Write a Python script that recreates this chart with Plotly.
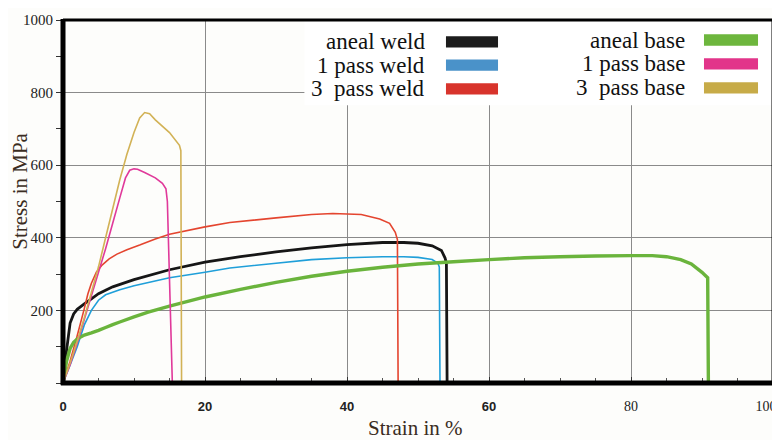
import plotly.graph_objects as go

# ---------------- data ----------------
aneal_weld_x = [0, 0.5, 1, 1.5, 2, 3, 4, 5, 7, 10, 15, 20, 25, 30, 35, 40, 45, 48, 50, 52, 53.3, 53.8, 54, 54.1]
aneal_weld_y = [0, 90, 165, 190, 203, 218, 232, 246, 265, 285, 312, 333, 348, 361, 372, 381, 387, 387, 385, 378, 365, 345, 330, 0]

pass1_weld_x = [0, 1, 2, 3, 4, 5, 6, 8, 10, 15, 20, 23.5, 30, 35, 40, 45, 48, 50, 52, 52.8, 53, 53.1]
pass1_weld_y = [0, 50, 100, 160, 200, 228, 243, 257, 268, 290, 305, 317, 330, 340, 345, 348, 348, 346, 340, 330, 320, 0]

pass3_weld_x = [0, 1, 2, 3, 3.5, 4, 4.7, 5.5, 6.5, 7.6, 9, 10.8, 13, 15, 20, 23.5, 30, 35, 38, 42, 44.6, 46, 46.8, 47.1, 47.2]
pass3_weld_y = [0, 60, 130, 205, 245, 275, 305, 325, 342, 355, 367, 380, 397, 410, 430, 442, 455, 464, 467, 464, 452, 440, 415, 395, 0]

aneal_base_x = [0, 0.5, 1, 1.5, 2, 2.5, 3, 4, 5, 6, 7, 8, 10, 12, 15, 20, 25, 30, 35, 40, 45, 50, 55, 60, 65, 70, 75, 80, 83, 85, 87, 88.5, 90, 90.8, 90.9]
aneal_base_y = [0, 60, 95, 112, 121, 127, 132, 138, 145, 153, 161, 168, 182, 195, 212, 237, 258, 277, 294, 308, 319, 328, 334, 340, 345, 348, 350, 351, 351, 348, 340, 328, 305, 290, 0]

pass1_base_x = [0, 1, 2, 3, 4, 5, 6, 7, 8, 8.8, 9.4, 10, 10.5, 11.5, 13, 14, 14.5, 14.7, 15.4]
pass1_base_y = [0, 50, 110, 175, 240, 305, 370, 440, 510, 565, 586, 590, 589, 580, 565, 550, 535, 500, 0]

pass3_base_x = [0, 1, 2, 3, 4, 5, 6, 7, 8, 9, 10, 10.8, 11.5, 12.2, 13, 15, 16.4, 16.6, 16.7]
pass3_base_y = [0, 55, 115, 180, 250, 320, 400, 480, 560, 630, 690, 730, 745, 742, 725, 690, 655, 640, 0]

series_names = ["aneal weld", "1 pass weld", "3  pass weld", "aneal base", "1 pass base", "3  pass base"]
line_colors = ["#161616", "#1f9fd9", "#e4452f", "#6ab43c", "#e0399a", "#d2b256"]
swatch_colors = ["#1c1c1c", "#4a92c9", "#d8342c", "#6db63d", "#e2358a", "#c7ab48"]
line_widths = [2.8, 1.6, 1.6, 3.4, 1.6, 1.6]

x_tick_vals = [0, 20, 40, 60, 80, 100]
x_tick_text = ["0", "20", "40", "60", "80", "100"]
y_tick_vals = [200, 400, 600, 800, 1000]
y_tick_text = ["200", "400", "600", "800", "1000"]

xs = [aneal_weld_x, pass1_weld_x, pass3_weld_x, aneal_base_x, pass1_base_x, pass3_base_x]
ys = [aneal_weld_y, pass1_weld_y, pass3_weld_y, aneal_base_y, pass1_base_y, pass3_base_y]

# ---------------- figure ----------------
fig = go.Figure()
for name, x, y, c, w in zip(series_names, xs, ys, line_colors, line_widths):
    fig.add_trace(go.Scatter(x=x, y=y, mode="lines", name=name,
                             line=dict(color=c, width=w, simplify=False), showlegend=False))

serif = "Liberation Serif, serif"
bg = "#fdfdfb"

# x tick labels: the first four are set in a small bold sans face in the original,
# the last label is nudged left (padding after it) so it stays inside the window
x_tick_display = []
for v, t in zip(x_tick_vals, x_tick_text):
    if v <= 60:
        x_tick_display.append("<span style='font-family:Liberation Sans;font-size:13px;font-weight:bold'>" + t + "</span>")
    elif v == 100:
        x_tick_display.append(t + "\u00a0\u00a0\u00a0\u00a0\u200b")
    else:
        x_tick_display.append(t)

# page body adds an 8px offset, so the figure is sized to fill the rest of the window
fig.update_layout(
    width=772, height=432,
    margin=dict(l=55, r=7, t=12, b=57),
    paper_bgcolor=bg, plot_bgcolor=bg,
    font=dict(family=serif, color="#111111"),
    xaxis=dict(range=[0, 100], tickvals=x_tick_vals, ticktext=x_tick_display, automargin=False,
               showgrid=True, gridcolor="#8a8a8a", gridwidth=1,
               ticks="inside", ticklen=6, tickcolor="#333", tickwidth=1,
               minor=dict(dtick=5, tick0=0, ticks="inside", ticklen=5, tickcolor="#555", showgrid=False),
               showline=False, zeroline=False, ticklabelstandoff=13, ticklabeloverflow="allow",
               tickfont=dict(family=serif, size=14, color="#222")),
    yaxis=dict(range=[0, 1000], tickvals=y_tick_vals, ticktext=y_tick_text, automargin=False,
               showgrid=True, gridcolor="#8a8a8a", gridwidth=1,
               ticks="outside", ticklen=6, tickcolor="#333", tickwidth=1,
               minor=dict(dtick=100, tick0=0, ticks="outside", ticklen=6, tickcolor="#333", showgrid=False),
               showline=False, zeroline=False, ticklabeloverflow="allow",
               tickfont=dict(family=serif, size=15, color="#222")),
)

shapes = []
# legend box (white) covering grid in upper right
shapes.append(dict(type="rect", xref="paper", yref="paper", x0=0.34, x1=1.0, y0=0.765, y1=1.0,
                   fillcolor="#ffffff", line=dict(width=0), layer="above"))

# legend entries
col_text_x = [0.5127, 0.8789]
col_sw_x = [(0.5394, 0.6127), (0.9028, 0.9789)]
rows_y = [[0.9394, 0.876, 0.81], [0.9449, 0.8788, 0.8127]]
annotations = []
for i, (name, sc) in enumerate(zip(series_names, swatch_colors)):
    col = i // 3
    row = i % 3
    yc = rows_y[col][row]
    annotations.append(dict(xref="paper", yref="paper", x=col_text_x[col], y=yc, text=name,
                            showarrow=False, xanchor="right", yanchor="middle",
                            font=dict(family=serif, size=23, color="#111")))
    x0, x1 = col_sw_x[col]
    shapes.append(dict(type="rect", xref="paper", yref="paper", x0=x0, x1=x1,
                       y0=yc - 0.0155, y1=yc + 0.0155, fillcolor=sc, line=dict(width=0), layer="above"))

# axis titles
annotations.append(dict(xref="paper", yref="paper", x=-0.0605, y=0.527, text="Stress in MPa",
                        textangle=-90, showarrow=False, xanchor="center", yanchor="middle",
                        font=dict(family=serif, size=21, color="#3a2c22")))
annotations.append(dict(xref="paper", yref="paper", x=0.496, y=-0.123, text="Strain in %",
                        showarrow=False, xanchor="center", yanchor="middle",
                        font=dict(family=serif, size=21, color="#3a2c22")))

# frame
shapes.append(dict(type="line", xref="paper", yref="paper", x0=0, x1=1, y0=1, y1=1,
                   line=dict(color="#000", width=3), layer="above"))
shapes.append(dict(type="line", xref="paper", yref="paper", x0=1, x1=1, y0=0, y1=1,
                   line=dict(color="#000", width=3), layer="above"))
shapes.append(dict(type="line", xref="paper", yref="paper", x0=0, x1=0, y0=-0.005, y1=1.003,
                   line=dict(color="#000", width=5), layer="above"))
shapes.append(dict(type="line", xref="paper", yref="paper", x0=-0.003, x1=1.002, y0=0, y1=0,
                   line=dict(color="#000", width=5), layer="above"))

fig.update_layout(shapes=shapes, annotations=annotations)

fig.write_html("out.html")
